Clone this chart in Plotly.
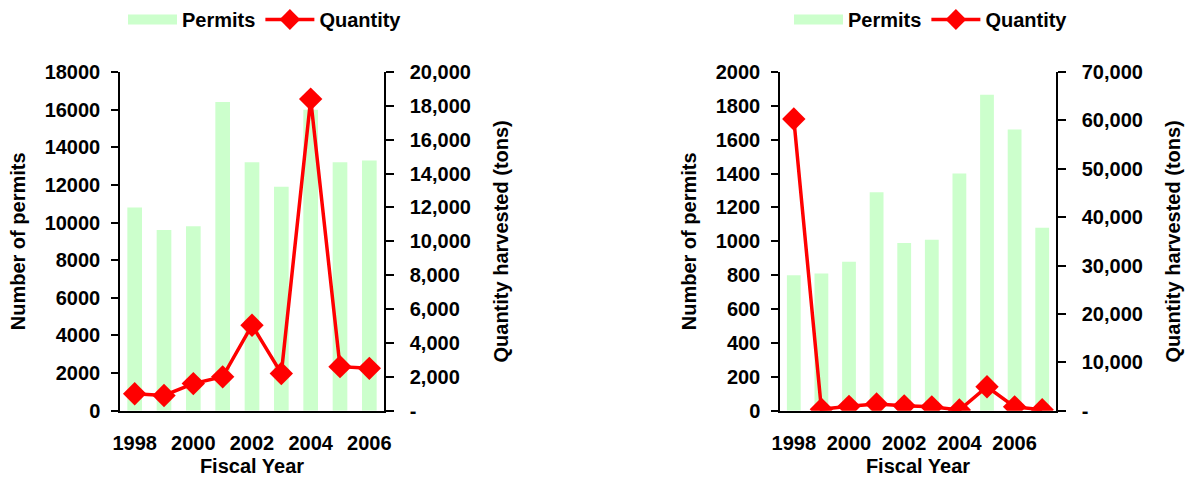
import plotly.graph_objects as go

# ---------------- data ----------------
years_a = [1998, 1999, 2000, 2001, 2002, 2003, 2004, 2005, 2006]
permits_a = [10800, 9600, 9800, 16400, 13200, 11900, 16000, 13200, 13300]
quantity_a = [1000, 900, 1600, 2000, 5050, 2200, 18400, 2600, 2500]

years_b = [1998, 1999, 2000, 2001, 2002, 2003, 2004, 2005, 2006, 2007]
permits_b = [800, 810, 880, 1290, 990, 1010, 1400, 1865, 1660, 1080]
quantity_b = [60300, 300, 900, 1400, 1000, 800, 150, 4950, 800, 200]

xlabel_years = [1998, 2000, 2002, 2004, 2006]
left_ticks_a = list(range(0, 18001, 2000))
right_ticks_a = list(range(0, 20001, 2000))
left_ticks_b = list(range(0, 2001, 200))
right_ticks_b = list(range(0, 70001, 10000))

def qlabels(vals):
    return ["-" if v == 0 else f"{v:,}" for v in vals]

def bounds(yrs):
    return [y - 0.5 for y in yrs] + [yrs[-1] + 0.5]

BAR = "#CCFFCC"
RED = "#FF0000"
FONT = dict(family="Liberation Sans, Arial, sans-serif", size=20, color="black", weight="bold")

W, H = 1188, 479
dom_a = [120 / W, 384 / W]
dom_b = [780 / W, 1056 / W]
dom_y = [(H - 410.7) / H, (H - 72) / H]

fig = go.Figure()

# ----- left chart -----
fig.add_trace(go.Scatter(x=[None], y=[None], mode="lines", name="Permits",
                         line=dict(color=BAR, width=14), legend="legend",
                         xaxis="x", yaxis="y", hoverinfo="skip"))
fig.add_trace(go.Bar(x=years_a, y=permits_a, marker=dict(color=BAR, line=dict(width=0)),
                     showlegend=False, xaxis="x", yaxis="y", name="Permits"))
fig.add_trace(go.Scatter(x=years_a, y=quantity_a, mode="lines+markers", name="Quantity",
                         line=dict(color=RED, width=3.5),
                         marker=dict(symbol="diamond", size=18, color=RED),
                         xaxis="x", yaxis="y2", legend="legend"))

# ----- right chart -----
fig.add_trace(go.Scatter(x=[None], y=[None], mode="lines", name="Permits",
                         line=dict(color=BAR, width=14), legend="legend2",
                         xaxis="x2", yaxis="y4", hoverinfo="skip"))
fig.add_trace(go.Bar(x=years_b, y=permits_b, marker=dict(color=BAR, line=dict(width=0)),
                     showlegend=False, xaxis="x2", yaxis="y4", name="Permits"))
fig.add_trace(go.Scatter(x=years_b, y=quantity_b, mode="lines+markers", name="Quantity",
                         line=dict(color=RED, width=3.5),
                         marker=dict(symbol="diamond", size=18, color=RED),
                         xaxis="x2", yaxis="y5", legend="legend2"))

def xlab_axis(dom, yrs, anchor):
    return dict(domain=dom, anchor=anchor, range=[yrs[0] - 0.5, yrs[-1] + 0.5],
                tickmode="array", tickvals=xlabel_years, ticks="", showgrid=False,
                zeroline=False, showline=True, linecolor="black", linewidth=1.5,
                ticklabelstandoff=14, tickfont=FONT, automargin=False,
                title=dict(text="Fiscal Year", font=FONT, standoff=6))

def xtick_axis(over, yrs, anchor):
    return dict(overlaying=over, anchor=anchor, side="bottom", range=[yrs[0] - 0.5, yrs[-1] + 0.5],
                tickmode="array", tickvals=bounds(yrs), ticks="outside", ticklen=8,
                tickcolor="black", tickwidth=1.5, showticklabels=False, showgrid=False,
                zeroline=False, showline=False, automargin=False)

def xtop_axis(over, yrs, anchor):
    return dict(overlaying=over, anchor=anchor, side="top", range=[yrs[0] - 0.5, yrs[-1] + 0.5],
                ticks="", showticklabels=False, showgrid=False, zeroline=False,
                showline=True, linecolor="#A0A0A0", linewidth=1.5, automargin=False)

def yleft_axis(dom, anchor, ticks):
    return dict(domain=dom, anchor=anchor, range=[ticks[0], ticks[-1]], tickmode="array",
                tickvals=ticks, ticktext=[str(v) for v in ticks], ticks="outside", ticklen=7,
                tickcolor="black", tickwidth=1.5,
                showline=True, linecolor="black", linewidth=1.5, showgrid=False, zeroline=False,
                tickfont=FONT, ticklabelstandoff=7, automargin=False,
                title=dict(text="Number of permits", font=FONT, standoff=14))

def yright_axis(over, anchor, ticks):
    return dict(overlaying=over, anchor=anchor, side="right", range=[ticks[0], ticks[-1]],
                tickmode="array", tickvals=ticks, ticktext=qlabels(ticks), ticks="outside",
                ticklen=8, tickcolor="black", tickwidth=1.5, showline=True, linecolor="black",
                linewidth=1.5, showgrid=False, zeroline=False, tickfont=FONT,
                ticklabelstandoff=12, automargin=False,
                title=dict(text="Quantity harvested (tons)", font=FONT, standoff=24))

def yin_axis(over, anchor, ticks):
    return dict(overlaying=over, anchor=anchor, side="right", range=[ticks[0], ticks[-1]],
                tickmode="array", tickvals=ticks, ticks="inside", ticklen=6, tickcolor="black",
                tickwidth=1.5, showticklabels=False, showline=False, showgrid=False,
                zeroline=False, automargin=False)

legend_common = dict(orientation="h", font=FONT, bgcolor="rgba(0,0,0,0)", itemwidth=49,
                     traceorder="normal", yanchor="top", xanchor="left", tracegroupgap=0)

fig.update_layout(
    template="none",
    width=W, height=H,
    margin=dict(l=0, r=0, t=0, b=0, autoexpand=False),
    paper_bgcolor="white", plot_bgcolor="white",
    font=FONT, bargap=0.5,
    xaxis=xlab_axis(dom_a, years_a, "y"),
    xaxis3=xtick_axis("x", years_a, "y"),
    xaxis5=xtop_axis("x", years_a, "y"),
    yaxis=yleft_axis(dom_y, "x", left_ticks_a),
    yaxis2=yright_axis("y", "x", right_ticks_a),
    yaxis3=yin_axis("y", "x", right_ticks_a),
    xaxis2=xlab_axis(dom_b, years_b, "y4"),
    xaxis4=xtick_axis("x2", years_b, "y4"),
    xaxis6=xtop_axis("x2", years_b, "y4"),
    yaxis4=yleft_axis(dom_y, "x2", left_ticks_b),
    yaxis5=yright_axis("y4", "x2", right_ticks_b),
    yaxis6=yin_axis("y4", "x2", right_ticks_b),
    legend=dict(x=123 / W, y=1.0, **legend_common),
    legend2=dict(x=789 / W, y=1.0, **legend_common),
    showlegend=True,
)

fig.write_html("out.html", config={"displayModeBar": False},
               post_script="document.body.style.margin='0';document.body.style.overflow='hidden';")
